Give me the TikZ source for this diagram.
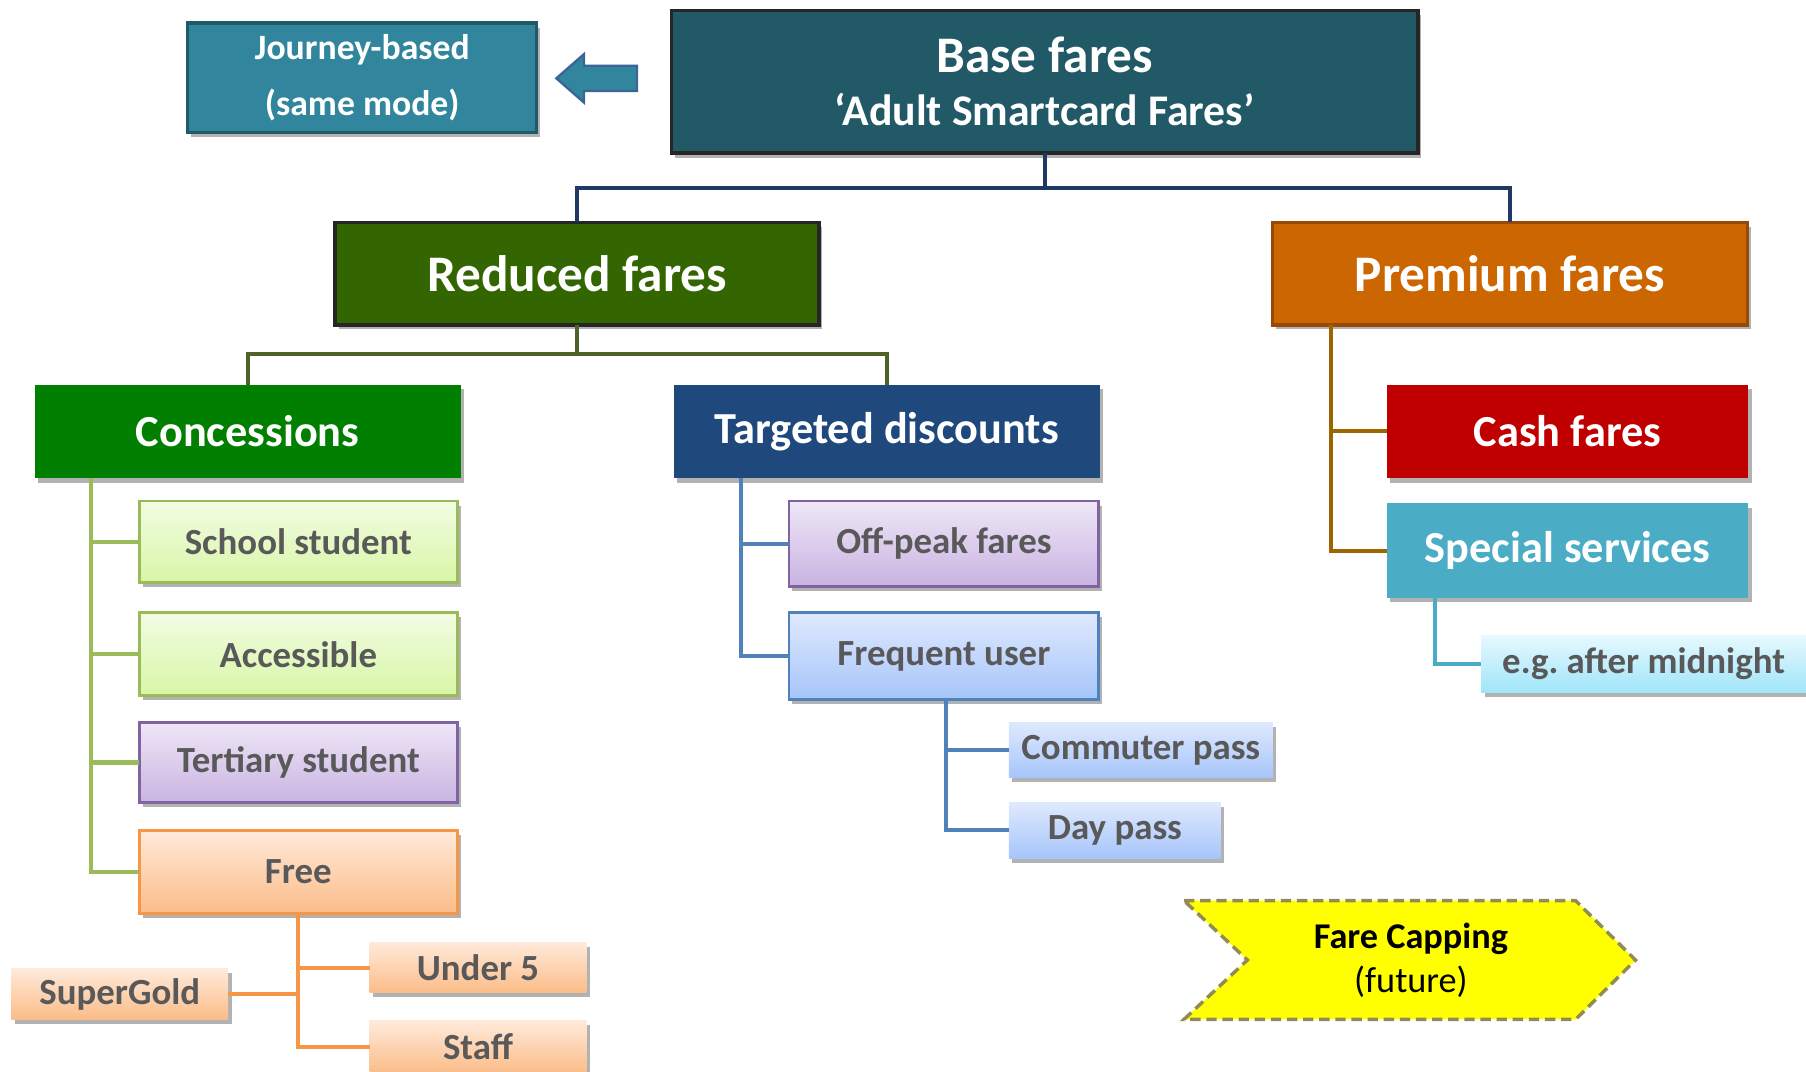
\documentclass[tikz,border=0pt]{standalone}
\usepackage{fontspec}
\setmainfont{Carlito}
\usetikzlibrary{shadows}
\frenchspacing
\definecolor{journeyfill}{HTML}{31859C}
\definecolor{journeyline}{HTML}{215968}
\definecolor{arrowline}{HTML}{3B6497}
\definecolor{basefill}{HTML}{215967}
\definecolor{redfill}{HTML}{336600}
\definecolor{premfill}{HTML}{CC6600}
\definecolor{premline}{HTML}{984807}
\definecolor{concfill}{HTML}{007F00}
\definecolor{targfill}{HTML}{1F497D}
\definecolor{cashfill}{HTML}{C00000}
\definecolor{specfill}{HTML}{4BACC6}
\definecolor{navyline}{HTML}{1F3864}
\definecolor{oliveline}{HTML}{4F6228}
\definecolor{gline}{HTML}{9BBB59}
\definecolor{oline}{HTML}{F79646}
\definecolor{bline}{HTML}{4F81BD}
\definecolor{pline}{HTML}{8064A2}
\definecolor{brownline}{HTML}{9C6500}
\definecolor{gtop}{HTML}{F2FCE4}
\definecolor{gbot}{HTML}{D8F6A6}
\definecolor{ptop}{HTML}{EFE7F7}
\definecolor{pbot}{HTML}{C9B3E2}
\definecolor{otop}{HTML}{FFEADA}
\definecolor{obot}{HTML}{FBBC88}
\definecolor{btop}{HTML}{DFE9FE}
\definecolor{bbot}{HTML}{A6C5FA}
\definecolor{ctop}{HTML}{E6F9FE}
\definecolor{cbot}{HTML}{A0E5FA}
\definecolor{txtgray}{HTML}{595959}
\definecolor{capline}{HTML}{948A54}
\definecolor{capfill}{HTML}{FFFF00}
\begin{document}
\begin{tikzpicture}[x=1pt,y=-1pt,
  every node/.style={inner sep=0pt, outer sep=0pt, align=center},
  shad/.style={drop shadow={shadow xshift=3pt, shadow yshift=-4pt, opacity=0.3, fill=black}},
  midfont/.style={font=\bfseries\fontsize{38.5}{46}\selectfont},
  bigfont/.style={font=\bfseries\fontsize{44.5}{52}\selectfont},
  smallfont/.style={font=\bfseries\fontsize{32}{38}\selectfont},
  solidbox/.style={shad, text=white},
  leaf/.style={shad, text=txtgray, smallfont},
  greenleaf/.style={leaf, top color=gtop, bottom color=gbot, draw=gline, line width=2.5pt},
  purpleleaf/.style={leaf, top color=ptop, bottom color=pbot, draw=pline, line width=2.5pt},
  orangeleaf/.style={leaf, top color=otop, bottom color=obot, draw=oline, line width=2.5pt},
  orangeplain/.style={leaf, top color=otop, bottom color=obot},
  blueleaf/.style={leaf, top color=btop, bottom color=bbot, draw=bline, line width=2.5pt},
  blueplain/.style={leaf, top color=btop, bottom color=bbot},
  cyanplain/.style={leaf, top color=ctop, bottom color=cbot},
  conn/.style={line width=3.5pt}
]
\useasboundingbox[fill=white] (0,0) rectangle (1568,930);

% top row
\node[solidbox, fill=journeyfill, draw=journeyline, line width=3pt,
      minimum width=303pt, minimum height=95pt,
      font=\bfseries\fontsize{31}{49}\selectfont] (journey) at (314.5,67.5)
      {Journey-based\\(same mode)};
\node[solidbox, fill=basefill, draw=black!85, line width=3pt,
      minimum width=648pt, minimum height=124pt,
      font=\bfseries\fontsize{38}{46}\selectfont] (base) at (907,71)
      {{\fontsize{44.5}{46}\selectfont Base fares}\\‘Adult Smartcard Fares’};
\coordinate (arrtip) at (483,68);
\fill[journeyfill, draw=arrowline, line width=2pt, line join=miter]
  (arrtip) -- (507,47) -- (507,57) -- (553,57) -- (553,79) -- (507,79) -- (507,89) -- cycle;

% second row
\node[solidbox, bigfont, fill=redfill, draw=black!85, line width=3pt,
      minimum width=420pt, minimum height=89pt] (reduced) at (501,237.5) {Reduced fares};
\node[solidbox, bigfont, fill=premfill, draw=premline, line width=3pt,
      minimum width=412pt, minimum height=89pt] (premium) at (1311,237.5) {Premium fares};

% third row
\node[solidbox, midfont, fill=concfill, minimum width=370pt, minimum height=81pt]
  (conc) at (215,374.5) {Concessions};
\node[solidbox, midfont, fill=targfill, minimum width=370pt, minimum height=81pt]
  (targ) at (770,374.5) {Targeted discounts};
\node[solidbox, midfont, fill=cashfill, minimum width=314pt, minimum height=81pt]
  (cash) at (1361,374.5) {Cash fares};
\node[solidbox, midfont, fill=specfill, minimum width=314pt, minimum height=82pt]
  (special) at (1361,478) {Special services};

% concession leaves
\node[greenleaf, minimum width=276pt, minimum height=71pt] (school) at (259,470.5) {School student};
\node[greenleaf, minimum width=276pt, minimum height=72pt] (acc) at (259,568) {Accessible};
\node[purpleleaf, minimum width=276pt, minimum height=70pt] (tert) at (259,662) {Tertiary student};
\node[orangeleaf, minimum width=276pt, minimum height=72pt] (free) at (259,757) {Free};
\node[orangeplain, minimum width=188pt, minimum height=44pt] (under) at (415,840) {Under 5};
\node[orangeplain, minimum width=188pt, minimum height=46pt] (staff) at (415,909) {Staff};
\node[orangeplain, minimum width=188pt, minimum height=44pt] (supergold) at (104,863) {SuperGold};

% targeted leaves
\node[purpleleaf, minimum width=269pt, minimum height=74pt] (offpeak) at (819.5,472) {Off-peak fares};
\node[blueleaf, minimum width=269pt, minimum height=75pt] (freq) at (819.5,569.5) {Frequent user};
\node[blueplain, minimum width=229pt, minimum height=48pt] (commuter) at (990.5,651) {Commuter pass};
\node[blueplain, minimum width=184pt, minimum height=48pt] (daypass) at (968,721) {Day pass};

% special leaf
\node[cyanplain, minimum width=282pt, minimum height=49pt] (midnight) at (1427,576.5) {e.g. after midnight};

% connectors
\draw[conn, navyline] (base.south) -- ++(0,30) coordinate (bj);
\draw[conn, navyline] (bj) -| (reduced.north);
\draw[conn, navyline] (bj) -| (premium.north);

\draw[conn, oliveline] (reduced.south) -- ++(0,25) coordinate (rj);
\draw[conn, oliveline] (rj) -| (conc.north);
\draw[conn, oliveline] (rj) -| (targ.north);

\coordinate (ct) at ([xshift=49pt]conc.south west);
\draw[conn, gline] (ct) |- (school.west);
\draw[conn, gline] (ct) |- (acc.west);
\draw[conn, gline] (ct) |- (tert.west);
\draw[conn, gline] (ct) |- (free.west);

\draw[conn, oline] (free.south) |- (under.west);
\draw[conn, oline] (free.south) |- (staff.west);
\draw[conn, oline] (free.south) |- (supergold.east);

\coordinate (tt) at ([xshift=58pt]targ.south west);
\draw[conn, bline] (tt) |- (offpeak.west);
\draw[conn, bline] (tt) |- (freq.west);
\coordinate (ft) at ([xshift=136pt]freq.south west);
\draw[conn, bline] (ft) |- (commuter.west);
\draw[conn, bline] (ft) |- (daypass.west);

\coordinate (pt) at ([xshift=51pt]premium.south west);
\draw[conn, brownline] (pt) |- (cash.west);
\draw[conn, brownline] (pt) |- (special.west);

\coordinate (st) at ([xshift=42pt]special.south west);
\draw[conn, specfill] (st) |- (midnight.west);

% fare capping chevron
\coordinate (c1) at (1028,782);
\coordinate (c2) at (1368,782);
\coordinate (c3) at (1420,833.5);
\coordinate (c4) at (1368,885);
\coordinate (c5) at (1028,885);
\coordinate (c6) at (1083,833.5);
\filldraw[fill=capfill, draw=capline, line width=3pt, dash pattern=on 9pt off 5pt]
  (c1) -- (c2) -- (c3) -- (c4) -- (c5) -- (c6) -- cycle;
\node[font=\fontsize{31.5}{38}\selectfont, text=black] (cap) at (1225,834)
  {\textbf{Fare Capping}\\(future)};
\end{tikzpicture}
\end{document}
